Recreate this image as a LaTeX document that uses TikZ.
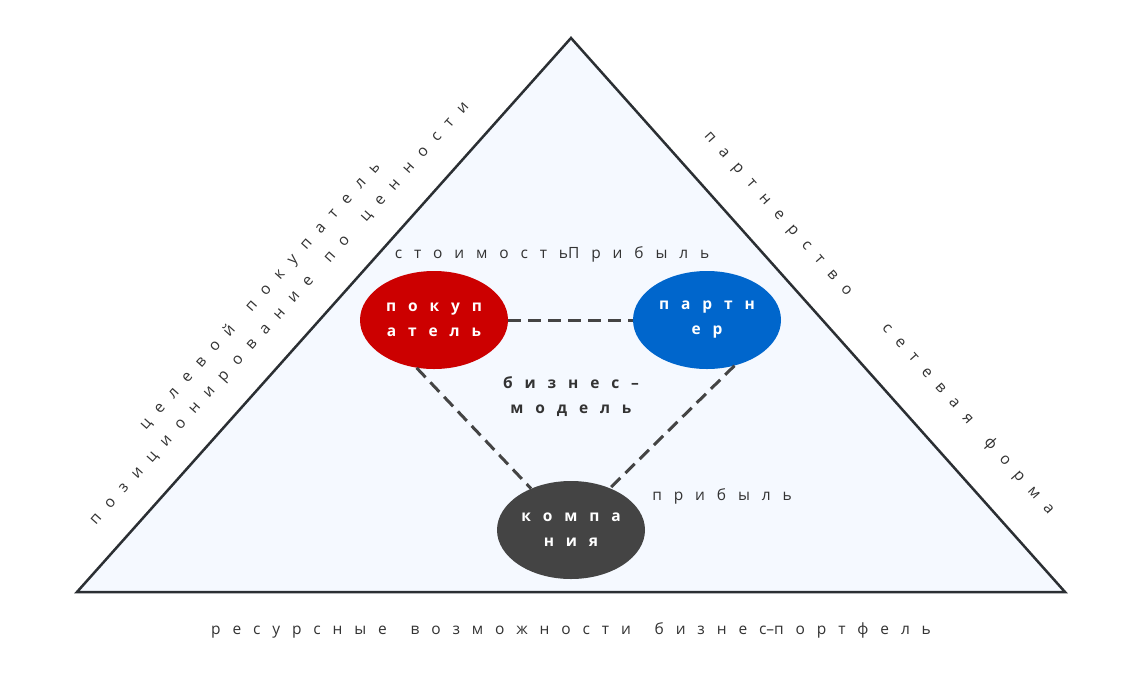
\documentclass[tikz,border=0pt]{standalone}
\usepackage{fontspec}
\setmainfont{Open Sans}[WordSpace=2.95]
\usetikzlibrary{shapes.geometric,positioning}
\definecolor{buyerred}{HTML}{CC0000}
\definecolor{partnerblue}{HTML}{0066CC}
\definecolor{companygray}{HTML}{444444}
\definecolor{trifill}{HTML}{F5F9FF}
\definecolor{triedge}{HTML}{2B2F33}
\definecolor{labeltext}{HTML}{333333}
\tikzset{
  party/.style={ellipse, minimum width=148, minimum height=98, inner sep=0pt,
    text=white, align=center, font=\fontsize{15.5}{25}\selectfont\bfseries},
  buyernode/.style={party, fill=buyerred},
  partnernode/.style={party, fill=partnerblue},
  companynode/.style={party, fill=companygray},
  sidetext/.style={text=labeltext, align=center, inner sep=0pt,
    font=\fontsize{15.5}{26}\selectfont},
  coretext/.style={sidetext, font=\fontsize{15.5}{25}\selectfont\bfseries},
  link/.style={dash pattern=on 13pt off 7pt, line width=3pt, draw=companygray},
  trianglebody/.style={draw=triedge, line width=2.5pt, fill=trifill, line join=miter},
}

\begin{document}
\begin{tikzpicture}[x=1pt,y=-1pt]
  \useasboundingbox[fill=white] (0,0) rectangle (1124,697);
  % triangle
  \coordinate (apex) at (571,38);
  \coordinate (baseL) at (77,592);
  \coordinate (baseR) at (1065,592);
  \draw[trianglebody] (apex) -- (baseL) -- (baseR) -- cycle;
  % the three parties
  \node[buyernode] (buyer) at (434,320) {п о к у п\\а т е л ь};
  \node[partnernode] (partner) at (707,320) {п а р т н\\е р};
  \node[companynode] (company) at (571,530) {к о м п а\\н и я};
  \draw[link] (buyer) -- (partner);
  \draw[link] (buyer.250) -- (company.134);
  \draw[link] (partner.301) -- (company.47);
  % inner labels
  \node[coretext] (core) at (571,397) {б и з н е с –\\м о д е л ь};
  \node[sidetext] (value) at (552,254) {с т о и м о с т ьП р и б ы л ь};
  \node[sidetext] (profit) at (722,496) {п р и б ы л ь};
  % labels along the sides
  \node[sidetext, rotate=48.27] (leftside) at (270,305)
    {ц е л е в о й~~п о к у п а т е л ь\\п о з и ц и о н и р о в а н и е~~п о~~ц е н н о с т и};
  \node[sidetext, rotate=-48.27] (partnership) at (777,215) {п а р т н е р с т в о};
  \node[sidetext, rotate=-48.27] (network) at (968,419) {с е т е в а я~~ф о р м а};
  \node[sidetext] (resources) at (571,630)
    {р е с у р с н ы е~~в о з м о ж н о с т и~~б и з н е с–п о р т ф е л ь};
\end{tikzpicture}
\end{document}
